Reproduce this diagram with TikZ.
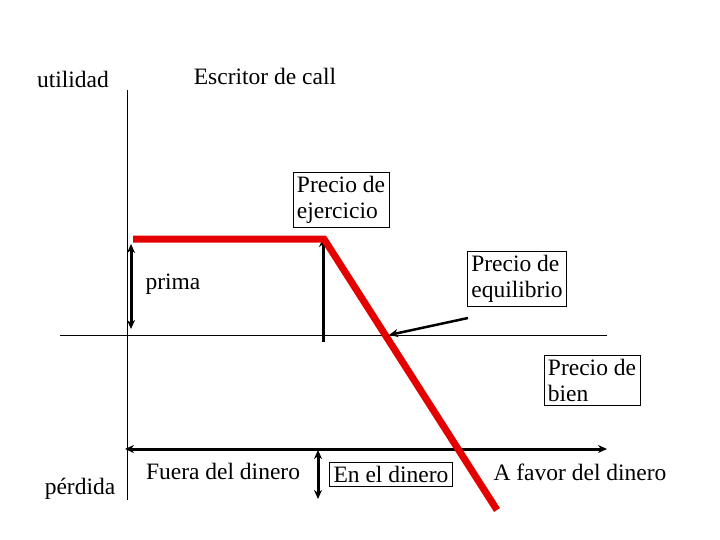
\documentclass[tikz,border=0pt]{standalone}
\usepackage{fontspec}
\setmainfont{Liberation Serif}
\usetikzlibrary{arrows.meta}
\begin{document}
\begin{tikzpicture}[x=1pt,y=-1pt,
  lbl/.style={font=\fontsize{23.5}{26}\selectfont,inner sep=2pt},
  boxlbl/.style={lbl,draw,thin,align=left,inner sep=4pt},
  arr/.style={line width=3pt,-{Stealth[length=9pt,width=8pt]}},
  darr/.style={line width=3pt,{Stealth[length=9pt,width=8pt]}-{Stealth[length=9pt,width=8pt]}}]
\useasboundingbox (0,0) rectangle (720,540);
% axes
\coordinate (yt) at (127,90); \coordinate (yb) at (127,500);
\coordinate (xl) at (60,335); \coordinate (xr) at (607,335);
\draw[thin] (yt) -- (yb);
\draw[thin] (xl) -- (xr);
% texts
\node[lbl] (u) at (73,79) {utilidad};
\node[lbl] (t) at (265,76) {Escritor de call};
\node[lbl] (pr) at (173,284) {prima};
\node[lbl] (pe) at (80,489) {pérdida};
\node[lbl] (fd) at (223,471) {Fuera del dinero};
\node[lbl] (af) at (580,472) {A favor del dinero};
\node[boxlbl] (ed) at (391,474) {En el dinero};
\node[boxlbl] (ej) at (341,200) {Precio de\\ejercicio};
\node[boxlbl] (eq) at (517,279) {Precio de\\equilibrio};
\node[boxlbl] (bi) at (592,380) {Precio de\\bien};
% vertical arrows
\coordinate (s1) at (323,342); \coordinate (e1) at (323,238);
\draw[arr] (s1) -- (e1);
\coordinate (pa) at (131,244); \coordinate (pb) at (131,329);
\draw[darr] (pa) -- (pb);
% bottom arrows
\coordinate (bl) at (125,449); \coordinate (br) at (607,449);
\draw[darr] (bl) -- (br);
\coordinate (va) at (318,450); \coordinate (vb) at (318,499);
\draw[darr] (va) -- (vb);
% red payoff
\coordinate (r0) at (133,239); \coordinate (r1) at (324,239); \coordinate (r2) at (497,510);
\draw[red!90!black,line width=7pt,line join=miter] (r0) -- (r1) -- (r2);
% equilibrium arrow
\coordinate (q0) at (468,318); \coordinate (q1) at (389,335);
\draw[line width=2.5pt,-{Stealth[length=9pt,width=8pt]}] (q0) -- (q1);
\end{tikzpicture}
\end{document}
